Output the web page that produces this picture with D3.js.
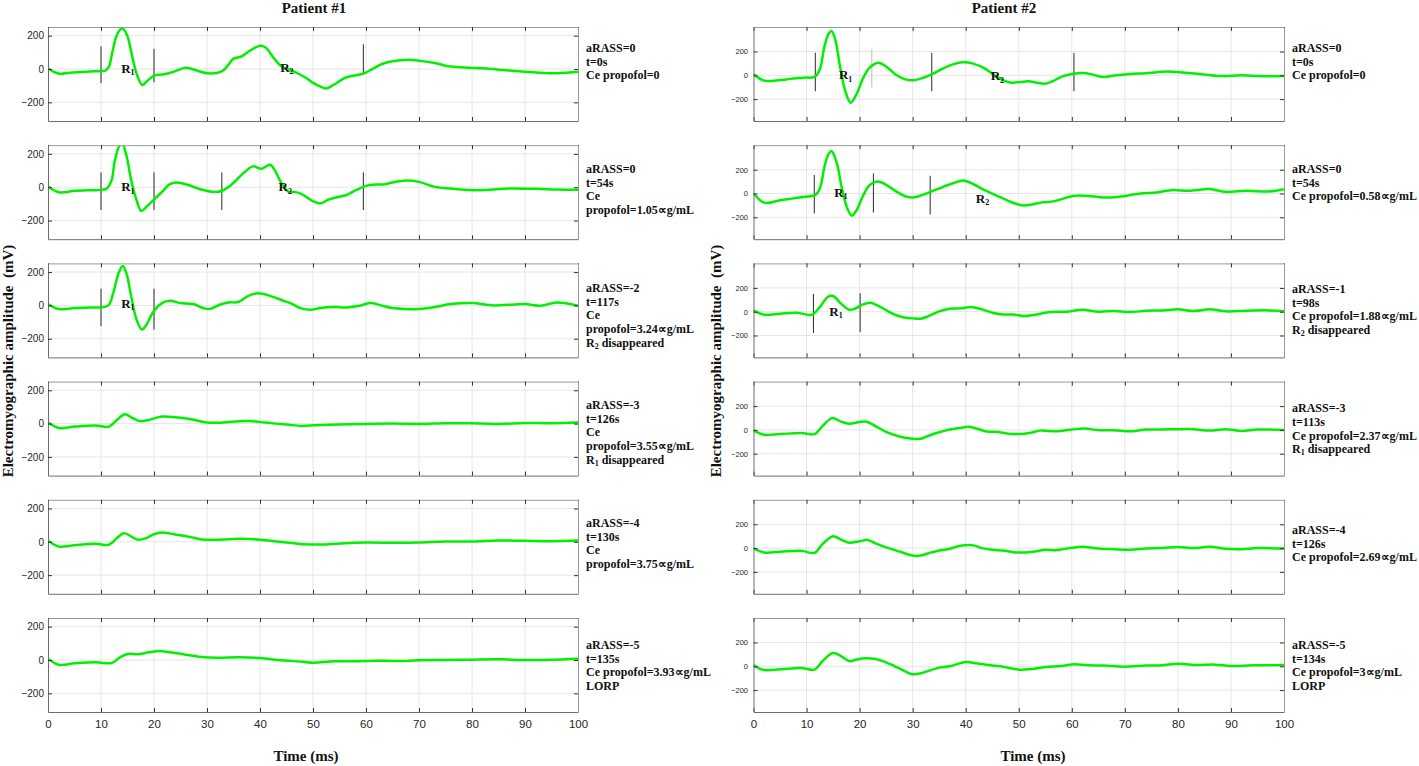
<!DOCTYPE html>
<html><head><meta charset="utf-8">
<script src="https://cdn.jsdelivr.net/npm/d3@7"></script>
<style>body{margin:0;background:#fff}svg{display:block}</style>
</head><body><svg id="c" width="1419" height="766"></svg>
<script>
// ---------- data ----------
const timeTicks = [0,10,20,30,40,50,60,70,80,90,100];
const ampTicks = [-200,0,200];

// Patient #1 traces: [time ms, amplitude mV]
const P1_1 = [[0,4],[1,-16],[2.2,-28],[4.2,-22],[7.3,-16],[10,-12],[10.8,-10],[11.5,14],[12.1,94],[13,204],[14,244],[14.9,204],[15.9,74],[16.8,-36],[17.8,-96],[18.7,-72],[20,-40],[21.9,-32],[23.8,-16],[26,8],[28.2,-10],[30.1,-26],[32.7,-16],[33.8,16],[35,62],[36.5,75],[38,108],[40,140],[41,130],[42.5,70],[44,16],[45.5,-4],[47,-24],[49,-60],[50,-83],[51.5,-107],[52.5,-117],[54,-93],[56,-54],[57.5,-40],[59.5,-28],[61,-4],[63,30],[65,46],[68,55],[70,50],[73,36],[75,20],[78,10],[82,4],[85,-4],[90,-16],[95,-26],[100,-16]];
const P1_2 = [[0,6],[2,-30],[5,-22],[8,-18],[10,-16],[11.1,-8],[12,42],[12.6,160],[13.5,250],[14,262],[14.8,190],[15.7,42],[16.7,-77],[17.6,-143],[18.6,-117],[19.9,-77],[21.5,-28],[23,18],[24.3,28],[26.2,16],[28.7,-12],[31.3,-28],[32.6,-24],[34.5,12],[37.1,91],[38.7,125],[40.3,111],[41.9,135],[42.8,101],[44.1,22],[45.4,-28],[46.6,-28],[47.9,-42],[49.8,-81],[51.4,-97],[53,-73],[54.9,-57],[56.2,-48],[58.1,-18],[60,8],[61.9,16],[63.2,16],[65,28],[67.5,40],[70,32],[73,2],[76,-8],[80,-18],[84,-14],[87,-8],[92,-10],[96,-14],[100,-16]];
const P1_3 = [[0,8],[2,-22],[5,-16],[8,-12],[10,-12],[11.4,0],[12.3,73],[13.3,192],[14.1,236],[14.8,192],[15.7,53],[16.7,-85],[17.7,-145],[18.6,-115],[19.9,-36],[21.5,14],[23,28],[24.9,14],[27.4,8],[29.3,-16],[30.5,-22],[32.4,4],[34,18],[35.9,20],[37.8,57],[39.7,73],[41.9,57],[44.4,28],[45.7,14],[47.6,-16],[49.5,-26],[51.4,-16],[53.9,-10],[56.4,-12],[59,0],[60.9,14],[62.8,0],[65,-16],[70,-22],[73,-10],[76,8],[80,14],[84,0],[87,4],[90,8],[93,-2],[96,18],[100,-2]];
const P1_4 = [[0,8],[2,-26],[5,-18],[9,-12],[11.5,-18],[13,22],[14.5,56],[16,32],[17.5,14],[19,22],[21.5,42],[24,38],[27,26],[30,6],[33,6],[36,14],[38,16],[41,6],[45,-6],[48,-14],[50,-10],[55,-6],[60,-2],[65,0],[70,-2],[75,2],[80,2],[85,-2],[90,4],[95,2],[100,6]];
const P1_5 = [[0,8],[2,-28],[5,-20],[9,-12],[11.5,-18],[13,22],[14.3,52],[16,26],[17,12],[18.5,22],[20,46],[21.5,56],[24,44],[27,28],[29,14],[32,12],[36,18],[39,16],[42,6],[45,-4],[48,-14],[52,-16],[56,-8],[60,-4],[66,-6],[70,-4],[75,2],[80,2],[85,8],[90,6],[95,4],[100,8]];
const P1_6 = [[0,8],[2,-28],[5,-20],[9,-14],[12,-18],[13.5,14],[15,36],[17,34],[19,46],[21,54],[23,46],[26,32],[29,18],[32,14],[36,16],[40,12],[44,-2],[48,-10],[50,-16],[54,-8],[58,-8],[62,-4],[66,-6],[70,-2],[75,0],[80,2],[85,4],[90,0],[95,2],[100,8]];

// Patient #2 traces
const P2_1 = [[0,11],[2,-45],[5,-40],[6.9,-30],[9.4,-20],[11.6,-11],[12.5,50],[13.4,246],[14.1,344],[14.7,372],[15.4,302],[16.3,78],[17.3,-132],[18.3,-230],[19.4,-160],[20.7,-20],[21.9,64],[23.5,106],[25.1,70],[27,0],[28.6,-34],[30.1,-42],[32,-20],[33.9,14],[35.8,59],[37.6,92],[39.5,109],[41.4,98],[43.3,64],[45.2,8],[47.1,-42],[48.7,-62],[50.3,-56],[51.8,-50],[53.4,-62],[55,-70],[56.5,-48],[58.1,-11],[60.3,14],[62.2,20],[64,5],[66,-15],[68,-2],[71,11],[74,17],[78,31],[81,23],[84,11],[88,-6],[92,0],[96,-8],[100,-6]];
const P2_2 = [[0,3],[2,-77],[5,-57],[6.9,-45],[9.4,-29],[11.6,-14],[12.5,43],[13.4,229],[14.1,329],[14.7,357],[15.7,257],[16.6,57],[17.6,-114],[18.5,-186],[19.4,-143],[20.7,-14],[21.9,71],[23.4,100],[25.1,71],[27,14],[28.6,-23],[30.1,-34],[32,-9],[33.9,23],[35.8,57],[37.6,86],[39.5,109],[41.4,80],[43.3,34],[45.2,-6],[47.1,-43],[49,-80],[50.9,-100],[52.7,-90],[54.6,-74],[56.5,-66],[58.4,-43],[60.3,-20],[63,-20],[67,-34],[70,-20],[73,0],[76,9],[79,29],[82,23],[86,37],[89,14],[93,23],[97,17],[100,37]];
const P2_3 = [[0,11],[2,-25],[5,-17],[8,-8],[11,-25],[12.5,39],[14,124],[15,132],[16.5,68],[18,17],[19,23],[20.5,59],[22,76],[24,39],[26,-11],[28,-45],[30,-56],[31.5,-59],[33,-37],[35,3],[37,25],[39,28],[41,39],[43,20],[45,-8],[47,-23],[49,-23],[51,-37],[53,-25],[56,-3],[59,0],[62,17],[65,0],[68,6],[71,-3],[74,8],[77,11],[80,20],[83,6],[86,20],[89,3],[93,8],[97,11],[100,3]];
const P2_4 = [[0,-3],[2,-41],[5,-35],[9,-26],[11.5,-35],[13,32],[14.8,99],[16.5,70],[18,52],[20,67],[21.2,70],[23,32],[25,-17],[27.5,-55],[30,-75],[31.5,-75],[33,-49],[35,-20],[37,3],[39,17],[40.5,26],[42,12],[44,-14],[46,-17],[48,-32],[50,-35],[52,-26],[54,-6],[57,-12],[60,3],[62.5,12],[65,-3],[68,-3],[71,-12],[74,3],[77,3],[80,6],[83,6],[86,-6],[89,6],[92,-9],[95,3],[100,0]];
const P2_5 = [[0,-3],[2,-37],[5,-31],[9,-23],[11.5,-40],[13,34],[15,100],[16.5,71],[18,46],[20,57],[21.5,69],[23,40],[25,6],[27.5,-29],[30,-63],[31.5,-63],[33,-43],[35,-20],[37,-6],[39,20],[41.5,23],[43,0],[45,-14],[47,-20],[49,-34],[51,-37],[53,-29],[55,-14],[57,-17],[60,3],[62,11],[65,-3],[68,-9],[71,-14],[74,-3],[77,0],[80,9],[83,0],[86,11],[89,-6],[92,-9],[95,0],[100,-3]];
const P2_6 = [[0,11],[2,-31],[5,-25],[9,-14],[11.5,-28],[13,44],[15,111],[16.5,86],[18,44],[19.5,58],[21,67],[23,61],[25,33],[27.5,-17],[30,-67],[32,-53],[35,-11],[37,0],[40,36],[42,25],[45,6],[47,-3],[50,-28],[52,-25],[55,-6],[58,3],[60.5,17],[63,8],[66,6],[70,-3],[74,6],[77,8],[80,22],[83,11],[87,14],[90,3],[94,8],[100,11]];

// right-hand annotations per panel
const P1_LABELS = [
  ["aRASS=0","t=0s","Ce propofol=0"],
  ["aRASS=0","t=54s","Ce","propofol=1.05\u221dg/mL"],
  ["aRASS=-2","t=117s","Ce","propofol=3.24\u221dg/mL","R2 disappeared"],
  ["aRASS=-3","t=126s","Ce","propofol=3.55\u221dg/mL","R1 disappeared"],
  ["aRASS=-4","t=130s","Ce","propofol=3.75\u221dg/mL"],
  ["aRASS=-5","t=135s","Ce propofol=3.93\u221dg/mL","LORP"]
];
const P2_LABELS = [
  ["aRASS=0","t=0s","Ce propofol=0"],
  ["aRASS=0","t=54s","Ce propofol=0.58\u221dg/mL"],
  ["aRASS=-1","t=98s","Ce propofol=1.88\u221dg/mL","R2 disappeared"],
  ["aRASS=-3","t=113s","Ce propofol=2.37\u221dg/mL","R1 disappeared"],
  ["aRASS=-4","t=126s","Ce propofol=2.69\u221dg/mL"],
  ["aRASS=-5","t=134s","Ce propofol=3\u221dg/mL","LORP"]
];

// vertical cursor markers: [time, top amplitude, bottom amplitude]
const P1_MARKERS = [
  [[10,136,-84],[20,121,-79],[59.5,148,-32]],
  [[10,89,-137],[20,89,-137],[32.8,89,-137],[59.5,89,-137]],
  [[10,100,-125],[20,100,-145]],
  [],[],[]
];
const P2_MARKERS = [
  [[11.65,190,-134],[33.6,190,-134],[60.4,190,-134]],
  [[11.46,155,-168],[22.6,168,-160],[33.3,149,-176]],
  [[11.3,149,-178],[20.1,155,-172]],
  [],[],[]
];
const P1_FAINT = [[],[],[],[],[],[]];
const P2_FAINT = [[[22.3,218,-104]],[],[],[],[],[]];

// reflex labels: [subscript, time, amplitude]
const P1_PEAKS = [
  [["1",13.8,-22],["2",43.8,-16]],
  [["1",13.8,-23],["2",43.5,-23]],
  [["1",13.8,-14]],
  [],[],[]
];
const P2_PEAKS = [
  [["1",16.1,-34],["2",44.7,-40]],
  [["1",15.2,-28],["2",41.9,-77]],
  [["1",14.3,-34]],
  [],[],[]
];

const TITLES = ["Patient #1","Patient #2"];
const X_LABEL = "Time (ms)";
const Y_LABEL = "Electromyographic amplitude  (mV)";

// ---------- layout ----------
const panelTops = [27,145.2,263.4,381.6,499.8,618];
const panelH = 94;
const cols = [
  {x0:48, x1:578, yDom:[-312,252], traces:[P1_1,P1_2,P1_3,P1_4,P1_5,P1_6], labels:P1_LABELS,
   markers:P1_MARKERS, faint:P1_FAINT, peaks:P1_PEAKS, textX:586, textOff:[25,27.7,28.6,27.4,27,31],
   ytickFont:10, ytickPad:4, titleX:314, xLabelX:306, yLabelX:13},
  {x0:753.5, x1:1284, yDom:[-384,406], traces:[P2_1,P2_2,P2_3,P2_4,P2_5,P2_6], labels:P2_LABELS,
   markers:P2_MARKERS, faint:P2_FAINT, peaks:P2_PEAKS, textX:1292, textOff:[25,27.7,29.6,30.7,34,31],
   ytickFont:7.5, ytickPad:5.5, titleX:1004, xLabelX:1033, yLabelX:721}
];
const SERIF = "'Liberation Serif','Times New Roman',serif";
const SANS = "'Liberation Sans',Arial,sans-serif";
const NARROW = "'Liberation Sans Narrow','Liberation Sans',Arial,sans-serif";
const lineGap = 13.7;

const svg = d3.select("#c");
svg.append("rect").attr("width",1419).attr("height",766).attr("fill","#fff");
const defs = svg.append("defs");

function addTextWithSub(sel, str, subSize, dy){
  const m = /^R(\d)(.*)$/.exec(str);
  if(m){
    sel.append("tspan").text("R");
    sel.append("tspan").attr("font-size",subSize).attr("dy",dy).text(m[1]);
    sel.append("tspan").attr("dy",-dy).text(m[2]);
  } else sel.text(str);
}

cols.forEach((c,ci)=>{
  const x = d3.scaleLinear().domain([0,100]).range([c.x0,c.x1]);
  c.traces.forEach((tr,i)=>{
    const top = panelTops[i];
    const y = d3.scaleLinear().domain(c.yDom).range([top+panelH, top]);
    const g = svg.append("g");
    const cid = `clip${ci}_${i}`;
    defs.append("clipPath").attr("id",cid).append("rect")
      .attr("x",c.x0).attr("y",top).attr("width",c.x1-c.x0).attr("height",panelH);

    // grid
    g.selectAll("line.gv").data(timeTicks.slice(1,-1)).join("line").attr("class","gv")
      .attr("x1",d=>x(d)).attr("x2",d=>x(d)).attr("y1",top).attr("y2",top+panelH)
      .attr("stroke","#e6e6e6").attr("stroke-width",1);
    g.selectAll("line.gh").data(ampTicks).join("line").attr("class","gh")
      .attr("x1",c.x0).attr("x2",c.x1).attr("y1",d=>y(d)).attr("y2",d=>y(d))
      .attr("stroke","#e6e6e6").attr("stroke-width",1);

    // cursor markers
    g.selectAll("line.mk").data(c.markers[i]).join("line").attr("class","mk")
      .attr("x1",d=>x(d[0])).attr("x2",d=>x(d[0])).attr("y1",d=>y(d[1])).attr("y2",d=>y(d[2]))
      .attr("stroke","#2a2a2a").attr("stroke-width",1);
    g.selectAll("line.fk").data(c.faint[i]).join("line").attr("class","fk")
      .attr("x1",d=>x(d[0])).attr("x2",d=>x(d[0])).attr("y1",d=>y(d[1])).attr("y2",d=>y(d[2]))
      .attr("stroke","#bdbdbd").attr("stroke-width",1);

    // trace
    const line = d3.line().x(d=>x(d[0])).y(d=>y(d[1])).curve(d3.curveCatmullRom.alpha(0.5));
    g.append("path").datum(tr).attr("d",line).attr("fill","none")
      .attr("stroke","#00f000").attr("stroke-width",2.5).attr("stroke-linejoin","round")
      .attr("clip-path",`url(#${cid})`);

    // axes (inward ticks)
    const isLast = i === c.traces.length-1;
    const axB = svg.append("g").attr("transform",`translate(0,${top+panelH})`)
      .call(d3.axisBottom(x).tickValues(timeTicks).tickSizeInner(-4).tickSizeOuter(0).tickPadding(8)
        .tickFormat(isLast ? d3.format("d") : ()=>""));
    axB.attr("font-family",NARROW).attr("font-size",11.5);
    const axT = svg.append("g").attr("transform",`translate(0,${top})`)
      .call(d3.axisTop(x).tickValues(timeTicks).tickSizeInner(-4).tickSizeOuter(0).tickFormat(()=>""));
    const axL = svg.append("g").attr("transform",`translate(${c.x0},0)`)
      .call(d3.axisLeft(y).tickValues(ampTicks).tickSizeInner(-4).tickSizeOuter(0).tickPadding(c.ytickPad));
    axL.attr("font-family",SANS).attr("font-size",c.ytickFont);
    const axR = svg.append("g").attr("transform",`translate(${c.x1},0)`)
      .call(d3.axisRight(y).tickValues(ampTicks).tickSizeInner(-4).tickSizeOuter(0).tickFormat(()=>""));
    [axB,axL].forEach(a=>{a.select(".domain").attr("stroke","#6e6e6e");});
    [axT,axR].forEach(a=>{a.select(".domain").attr("stroke","#9a9a9a");});
    [axB,axT,axL,axR].forEach(a=>{a.selectAll(".tick line").attr("stroke","#333");
      a.selectAll(".tick text").attr("fill","#262626");});

    // reflex labels
    c.peaks[i].forEach(p=>{
      const t = g.append("text").attr("x",x(p[1])).attr("y",y(p[2]))
        .attr("font-family",SERIF).attr("font-weight","bold").attr("font-size",13).attr("fill","#111");
      t.append("tspan").text("R");
      t.append("tspan").attr("font-size",8).attr("dy",2.5).text(p[0]);
    });

    // annotation block
    c.labels[i].forEach((s,k)=>{
      const t = g.append("text").attr("x",c.textX).attr("y",top+c.textOff[i]+k*lineGap)
        .attr("font-family",SERIF).attr("font-weight","bold").attr("font-size",12).attr("fill","#111");
      addTextWithSub(t,s,8,2);
    });
  });

  // column title, x-label, y-label
  svg.append("text").attr("x",c.titleX).attr("y",13).attr("text-anchor","middle")
    .attr("font-family",SERIF).attr("font-weight","bold").attr("font-size",15).attr("fill","#111").text(TITLES[ci]);
  svg.append("text").attr("x",c.xLabelX).attr("y",761).attr("text-anchor","middle")
    .attr("font-family",SERIF).attr("font-weight","bold").attr("font-size",15).attr("fill","#111").text(X_LABEL);
  svg.append("text").attr("transform",`translate(${c.yLabelX},361) rotate(-90)`).attr("text-anchor","middle")
    .attr("font-family",SERIF).attr("font-weight","bold").attr("font-size",15).attr("fill","#111")
    .style("white-space","pre").text(Y_LABEL);
});
</script>
</body></html>
